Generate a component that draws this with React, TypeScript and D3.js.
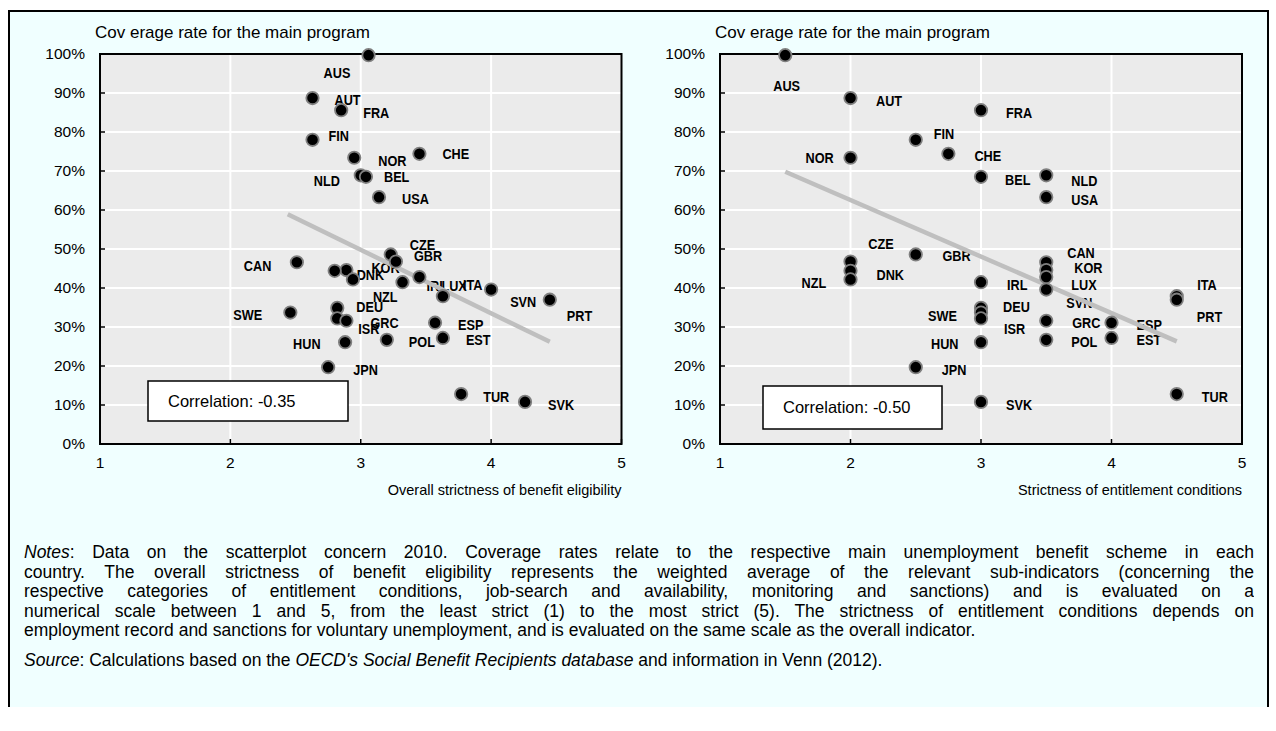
import React from 'react';
import * as d3 from 'd3';

// Countries, in the same order for every array below
const countries = [
  'AUS', 'AUT', 'FRA', 'FIN', 'NOR', 'CHE', 'NLD', 'BEL', 'USA', 'CZE', 'GBR',
  'CAN', 'KOR', 'DNK', 'NZL', 'LUX', 'IRL', 'SVN', 'ITA', 'PRT', 'DEU', 'SWE',
  'ISR', 'GRC', 'ESP', 'EST', 'POL', 'HUN', 'JPN', 'TUR', 'SVK',
];
// Coverage rate for the main program (%)
const coverage = [
  99.7, 88.7, 85.6, 78.0, 73.4, 74.4, 68.9, 68.5, 63.3, 48.6, 46.8,
  46.6, 44.6, 44.4, 42.2, 42.8, 41.5, 39.6, 37.9, 37.0, 34.9, 33.7,
  32.2, 31.6, 31.1, 27.2, 26.7, 26.1, 19.7, 12.8, 10.8,
];
// Overall strictness of benefit eligibility
const overallStrictness = [
  3.06, 2.63, 2.85, 2.63, 2.95, 3.45, 3.0, 3.04, 3.14, 3.23, 3.27,
  2.51, 2.89, 2.8, 2.94, 3.45, 3.32, 4.0, 3.63, 4.45, 2.82, 2.46,
  2.82, 2.89, 3.57, 3.63, 3.2, 2.88, 2.75, 3.77, 4.26,
];
// Strictness of entitlement conditions
const entitlementStrictness = [
  1.5, 2, 3, 2.5, 2, 2.75, 3.5, 3, 3.5, 2.5, 2,
  3.5, 3.5, 2, 2, 3.5, 3, 3.5, 4.5, 4.5, 3, 3,
  3, 3.5, 4, 4, 3.5, 3, 2.5, 4.5, 3,
];
const xTicks = [1, 2, 3, 4, 5];
const yTicks = [0, 10, 20, 30, 40, 50, 60, 70, 80, 90, 100];
// trend lines (x, coverage)
const trendOverall = [[2.44, 58.9], [4.45, 26.2]];
const trendEntitlement = [[1.5, 69.8], [4.5, 26.3]];
const correlations = ['-0.35', '-0.50'];

const notesLines = [
  'Data on the scatterplot concern 2010. Coverage rates relate to the respective main unemployment benefit scheme in each',
  'country. The overall strictness of benefit eligibility represents the weighted average of the relevant sub-indicators (concerning the',
  'respective categories of entitlement conditions, job-search and availability, monitoring and sanctions) and is evaluated on a',
  'numerical scale between 1 and 5, from the least strict (1) to the most strict (5). The strictness of entitlement conditions depends on',
  'employment record and sanctions for voluntary unemployment, and is evaluated on the same scale as the overall indicator.',
];

// label placement, pixels from the point: [dx to left edge, dy to middle]
const offsetsOverall: Record<string, [number, number]> = {
  AUS: [-45, 17], AUT: [22, 1], FRA: [22, 2.5], FIN: [16, -4], NOR: [24, 3],
  CHE: [23, 0], NLD: [-47, 5], BEL: [18, 0], USA: [23, 1], CZE: [19, -10],
  GBR: [18, -6], CAN: [-53, 3], KOR: [25, -3], DNK: [22, 4], NZL: [20, 17],
  LUX: [22, 8], IRL: [24, 3], SVN: [19, 12], ITA: [20, -12], PRT: [17, 16],
  DEU: [19, -1], SWE: [-57, 2], ISR: [21, 10], GRC: [24, 2], ESP: [23, 2],
  EST: [23, 2], POL: [22, 2], HUN: [-52, 1], JPN: [25, 2.5], TUR: [22, 2.5],
  SVK: [23, 3],
};
const offsetsEntitlement: Record<string, [number, number]> = {
  AUS: [-12, 30], AUT: [25.5, 2], FRA: [25, 2], FIN: [18, -6], NOR: [-45, 0],
  CHE: [26, 2], NLD: [25, 5], BEL: [24, 3], USA: [25, 2], CZE: [-47.5, -11],
  GBR: [92, -5.5], CAN: [21, -9.5], KOR: [28, -3], DNK: [26, 4], NZL: [-49, 3.5],
  LUX: [25, 7.5], IRL: [26, 2], SVN: [20, 13], ITA: [20.5, -12], PRT: [20, 17],
  DEU: [22, -1], SWE: [-53, 2.5], ISR: [23, 10], GRC: [26, 2], ESP: [25, 2],
  EST: [25, 1.6], POL: [25, 2], HUN: [-50, 1], JPN: [26, 2], TUR: [25, 2.5],
  SVK: [25, 3],
};

const FONT = "Arial, 'Liberation Sans', sans-serif";
const TOP = 54;
const BOTTOM = 444;

interface PanelProps {
  left: number;
  right: number;
  xs: number[];
  offsets: Record<string, [number, number]>;
  trend: number[][];
  xTitle: string;
  corr: string;
  box: { x: number; y: number; w: number; h: number };
}

const Panel: React.FC<PanelProps> = ({ left, right, xs, offsets, trend, xTitle, corr, box }) => {
  const x = d3.scaleLinear().domain([1, 5]).range([left, right]);
  const y = d3.scaleLinear().domain([0, 100]).range([BOTTOM, TOP]);
  const line = d3.line<number[]>().x(d => x(d[0])).y(d => y(d[1]));

  return (
    <g>
      <text x={left - 5} y={38} fontSize={17} fontFamily={FONT}>Cov erage rate for the main program</text>
      <rect x={left} y={TOP} width={right - left} height={BOTTOM - TOP} fill="#ebebeb" />
      {yTicks.slice(1, -1).map(t => (
        <line key={'gy' + t} x1={left} x2={right} y1={y(t)} y2={y(t)} stroke="#fff" strokeWidth={2} />
      ))}
      {xTicks.slice(1, -1).map(t => (
        <line key={'gx' + t} x1={x(t)} x2={x(t)} y1={TOP} y2={BOTTOM} stroke="#fff" strokeWidth={2} />
      ))}
      {yTicks.map(t => (
        <g key={'ty' + t}>
          <line x1={left} x2={left + 5} y1={y(t)} y2={y(t)} stroke="#000" strokeWidth={1.5} />
          <text x={left - 15} y={y(t)} dy="0.35em" textAnchor="end" fontSize={15.5} fontFamily={FONT}>{t}%</text>
        </g>
      ))}
      {xTicks.map(t => (
        <g key={'tx' + t}>
          <line x1={x(t)} x2={x(t)} y1={BOTTOM} y2={BOTTOM - 5} stroke="#000" strokeWidth={1.5} />
          <text x={x(t)} y={BOTTOM + 24} textAnchor="middle" fontSize={15.5} fontFamily={FONT}>{t}</text>
        </g>
      ))}
      <rect x={left} y={TOP} width={right - left} height={BOTTOM - TOP} fill="none" stroke="#000" strokeWidth={2} />
      <text x={right} y={BOTTOM + 51} textAnchor="end" fontSize={14.5} fontFamily={FONT}>{xTitle}</text>

      {countries.map((c, i) => {
        const [dx, dy] = offsets[c];
        return (
          <g key={'l' + c} transform={`translate(${x(xs[i]) + dx},${y(coverage[i]) + dy}) scale(0.82,1)`}>
            <text dominantBaseline="central" fontSize={15.5} fontWeight="bold" fontFamily={FONT}>{c}</text>
          </g>
        );
      })}
      <path d={line(trend) || ''} stroke="#bfbfbf" strokeWidth={4.5} fill="none" />
      {countries.map((c, i) => (
        <circle key={'p' + c} cx={x(xs[i])} cy={y(coverage[i])} r={6.2} fill="#000" stroke="#7f7f7f" strokeWidth={1.8} />
      ))}

      <rect x={box.x} y={box.y} width={box.w} height={box.h} fill="#fff" stroke="#000" strokeWidth={1.5} />
      <text x={box.x + 20} y={box.y + box.h / 2} dy="0.35em" fontSize={16.5} fontFamily={FONT}>Correlation: {corr}</text>
    </g>
  );
};

export default function App() {
  const W = 1276;
  const H = 731;
  const justified: React.CSSProperties = { textAlign: 'justify', textAlignLast: 'justify' };
  return (
    <svg width={W} height={H} style={{ position: 'absolute', left: 0, top: 0 }}>
      <rect width={W} height={H} fill="#fff" />
      <rect x={9} y={11} width={1259} height={696} fill="#f0ffff" />
      <path d="M9,707 V11 H1268 V707" fill="none" stroke="#000" strokeWidth={2} />

      <Panel left={100} right={621.5} xs={overallStrictness} offsets={offsetsOverall} trend={trendOverall}
        xTitle="Overall strictness of benefit eligibility" corr={correlations[0]}
        box={{ x: 148, y: 381, w: 200, h: 40 }} />
      <Panel left={720} right={1242} xs={entitlementStrictness} offsets={offsetsEntitlement} trend={trendEntitlement}
        xTitle="Strictness of entitlement conditions" corr={correlations[1]}
        box={{ x: 763, y: 386, w: 179, h: 43 }} />

      <foreignObject x={24} y={543} width={1230} height={150}>
        <div style={{ fontFamily: FONT, fontSize: 17.5, lineHeight: '19.5px', color: '#000' }}>
          <div style={justified}><i>Notes</i>: {notesLines[0]}</div>
          {notesLines.slice(1, 4).map((t, i) => (
            <div key={i} style={justified}>{t}</div>
          ))}
          <div>{notesLines[4]}</div>
          <div style={{ marginTop: 10 }}>
            <i>Source</i>: Calculations based on the <i>OECD's Social Benefit Recipients database</i> and information in Venn (2012).
          </div>
        </div>
      </foreignObject>
    </svg>
  );
}
